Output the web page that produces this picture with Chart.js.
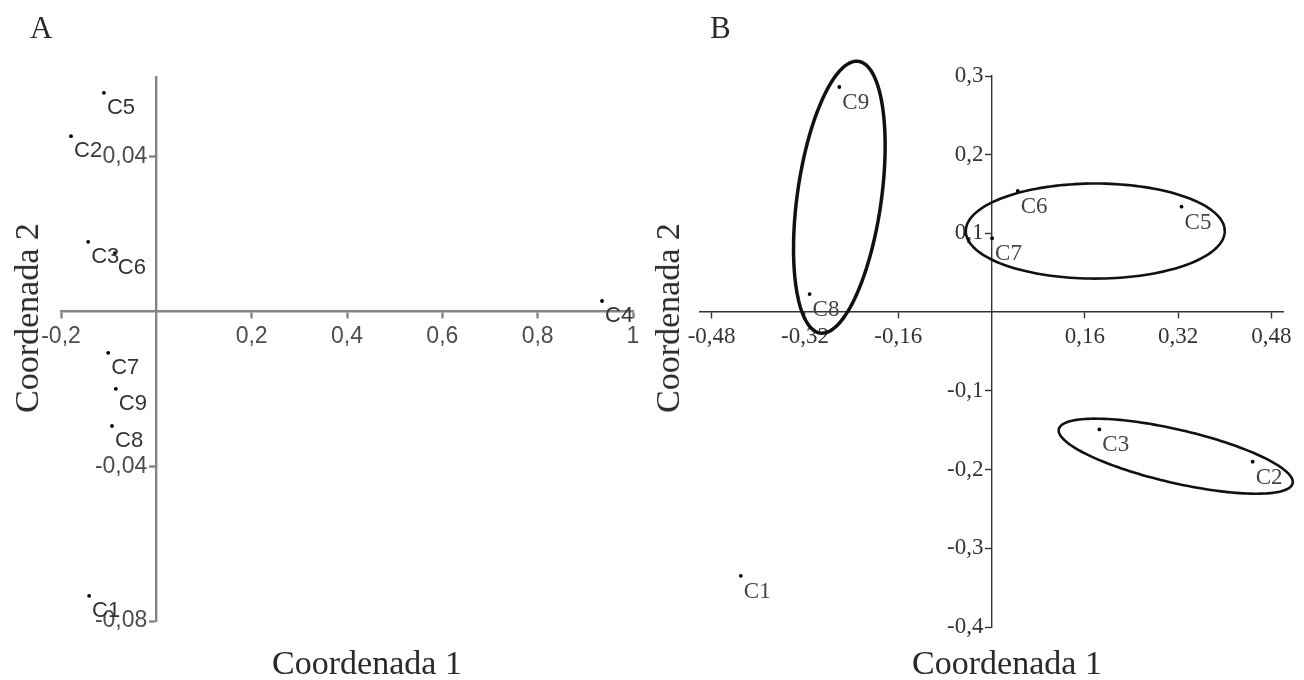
<!DOCTYPE html>
<html><head><meta charset="utf-8">
<script src="https://cdn.jsdelivr.net/npm/chart.js@4.4.0/dist/chart.umd.min.js"></script>
<style>
html,body{margin:0;padding:0;background:#fff;width:1304px;height:680px;overflow:hidden;}
#wrap{position:relative;width:1304px;height:680px;background:#fff;}
canvas{position:absolute;top:0;}
.t{position:absolute;font-family:"Liberation Serif","Times New Roman",serif;color:#2a2a2a;line-height:1;white-space:nowrap;}
</style></head>
<body><div id="wrap">
<canvas id="cA" width="652" height="680" style="left:0;width:652px;height:680px"></canvas>
<canvas id="cB" width="652" height="680" style="left:652px;width:652px;height:680px"></canvas>
<div class="t" style="left:30px;top:12px;font-size:31px">A</div>
<div class="t" style="left:710px;top:12px;font-size:31px">B</div>
<div class="t" style="left:367px;top:646px;font-size:34px;transform:translateX(-50%)">Coordenada 1</div>
<div class="t" style="left:1007px;top:646px;font-size:34px;transform:translateX(-50%)">Coordenada 1</div>
<div class="t" style="left:27px;top:318px;font-size:34px;transform:translate(-50%,-50%) rotate(-90deg)">Coordenada 2</div>
<div class="t" style="left:668px;top:318px;font-size:34px;transform:translate(-50%,-50%) rotate(-90deg)">Coordenada 2</div>
</div>
<script>
// ---- data ----
const categories = ['C1','C2','C3','C4','C5','C6','C7','C8','C9'];
// Panel A (C4 only appears in A)
const coordA1 = [-0.141, -0.179, -0.143, 0.935, -0.110, -0.087, -0.101, -0.093, -0.085];
const coordA2 = [-0.0735, 0.0453, 0.0180, 0.0027, 0.0565, 0.0151, -0.0107, -0.0296, -0.0200];
// Panel B (no C4)
const categoriesB = ['C1','C2','C3','C5','C6','C7','C8','C9'];
const coordB1 = [-0.430, 0.448, 0.185, 0.326, 0.045, 0.001, -0.312, -0.261];
const coordB2 = [-0.335, -0.190, -0.149, 0.134, 0.154, 0.094, 0.023, 0.286];
// ticks
const ticksA1 = [-0.2, 0.2, 0.4, 0.6, 0.8, 1];
const tickLabelsA1 = ['-0,2','0,2','0,4','0,6','0,8','1'];
const ticksA2 = [0.04, -0.04, -0.08];
const tickLabelsA2 = ['0,04','-0,04','-0,08'];
const ticksB1 = [-0.48, -0.32, -0.16, 0.16, 0.32, 0.48];
const tickLabelsB1 = ['-0,48','-0,32','-0,16','0,16','0,32','0,48'];
const ticksB2 = [0.3, 0.2, 0.1, -0.1, -0.2, -0.3, -0.4];
const tickLabelsB2 = ['0,3','0,2','0,1','-0,1','-0,2','-0,3','-0,4'];
// group ellipses in panel B (data units): centre and two conjugate semi-axes
const groupCenterX = [-0.261, 0.178, 0.316];
const groupCenterY = [0.146, 0.103, -0.183];
const groupAxisU = [[0.0328, 0.1726], [0.2221, 0], [0.2005, -0.0344]];
const groupAxisV = [[0.0714, -0.0074], [0, 0.0604], [-0.0100, -0.0330]];

// ---- plugins ----
const ptLabels = {
  id: 'ptLabels',
  afterDatasetsDraw(chart, args, o) {
    const ctx = chart.ctx, meta = chart.getDatasetMeta(0);
    ctx.save();
    ctx.font = o.font; ctx.fillStyle = o.color;
    ctx.textAlign = 'left'; ctx.textBaseline = 'alphabetic';
    meta.data.forEach((el, i) => {
      ctx.fillText(o.names[i], el.x + o.dx, el.y + o.dy);
    });
    ctx.restore();
  }
};
const ellipses = {
  id: 'ellipses',
  afterDatasetsDraw(chart, args, o) {
    if (!o || !o.show) return;
    const ctx = chart.ctx, sx = chart.scales.x, sy = chart.scales.y;
    ctx.save();
    ctx.strokeStyle = o.color;
    groupCenterX.forEach((cx, k) => {
      const cy = groupCenterY[k], u = groupAxisU[k], v = groupAxisV[k];
      ctx.lineWidth = o.widths[k];
      ctx.beginPath();
      const n = 160;
      for (let j = 0; j <= n; j++) {
        const t = j / n * Math.PI * 2;
        const x = cx + u[0] * Math.cos(t) + v[0] * Math.sin(t);
        const y = cy + u[1] * Math.cos(t) + v[1] * Math.sin(t);
        const px = sx.getPixelForValue(x), py = sy.getPixelForValue(y);
        if (j === 0) ctx.moveTo(px, py); else ctx.lineTo(px, py);
      }
      ctx.closePath();
      ctx.stroke();
    });
    ctx.restore();
  }
};
// move the y tick labels clear of the tick marks (axis drawn at x = 0)
const shiftYLabels = {
  id: 'shiftYLabels',
  beforeDraw(chart, args, o) {
    const s = chart.scales.y;
    const items = s.getLabelItems(chart.chartArea);
    if (items._shifted) return;
    items.forEach(it => { it.options.translation[0] -= o.shift; });
    items._shifted = true;
  }
};

function makeChart(id, names, xs, ys, cfg) {
  const pts = names.map((c, i) => ({x: xs[i], y: ys[i]}));
  return new Chart(document.getElementById(id), {
    type: 'scatter',
    data: {datasets: [{data: pts, pointRadius: 1.9, pointHoverRadius: 1.9,
      pointBackgroundColor: '#000', pointBorderWidth: 0}]},
    options: {
      responsive: false, animation: false, events: [],
      layout: {padding: cfg.padding},
      plugins: {
        legend: {display: false}, tooltip: {enabled: false},
        ptLabels: {names: names, font: cfg.labelFont, color: cfg.labelColor, dx: cfg.dx, dy: cfg.dy},
        ellipses: cfg.ellipses || {show: false},
        shiftYLabels: {shift: cfg.yshift}
      },
      scales: {
        x: {
          type: 'linear', min: cfg.xmin, max: cfg.xmax, position: {y: 0},
          afterFit: s => { s.height = 0; },
          afterBuildTicks: s => { s.ticks = cfg.xt.map(v => ({value: v})); },
          ticks: {autoSkip: false, maxRotation: 0, minRotation: 0, padding: cfg.xpad,
            callback: (v, i) => cfg.xl[i], font: cfg.tickFont, color: cfg.tickColor},
          grid: {drawOnChartArea: false, drawTicks: true, tickLength: 6, tickColor: cfg.axisColor, tickWidth: cfg.axisWidth},
          border: {display: true, color: cfg.axisColor, width: cfg.axisWidth}
        },
        y: {
          type: 'linear', min: cfg.ymin, max: cfg.ymax, position: {x: 0},
          afterFit: s => { s.width = 0; },
          afterBuildTicks: s => { s.ticks = cfg.yt.map(v => ({value: v})); },
          ticks: {autoSkip: false, padding: 2,
            callback: (v, i) => cfg.yl[i], font: cfg.tickFont, color: cfg.tickColor},
          grid: {drawOnChartArea: false, drawTicks: true, tickLength: 6, tickColor: cfg.axisColor, tickWidth: cfg.axisWidth},
          border: {display: true, color: cfg.axisColor, width: cfg.axisWidth}
        }
      }
    },
    plugins: [shiftYLabels, ptLabels, ellipses]
  });
}

makeChart('cA', categories, coordA1, coordA2, {
  padding: {left: 61, right: 19, top: 77, bottom: 59},
  xmin: -0.2, xmax: 1, ymin: -0.08, ymax: 0.0606,
  xt: ticksA1, xl: tickLabelsA1, yt: ticksA2, yl: tickLabelsA2,
  xpad: 5, yshift: 9,
  tickFont: {family: '"Liberation Sans", Arial, sans-serif', size: 23},
  tickColor: '#4d4d4d', axisColor: '#858585', axisWidth: 2.4,
  labelFont: '22px "Liberation Sans", Arial, sans-serif', labelColor: '#333', dx: 3, dy: 21
});

makeChart('cB', categoriesB, coordB1, coordB2, {
  padding: {left: 48, right: 21, top: 76, bottom: 53},
  xmin: -0.5, xmax: 0.5, ymin: -0.4, ymax: 0.3,
  xt: ticksB1, xl: tickLabelsB1, yt: ticksB2, yl: tickLabelsB2,
  xpad: 5, yshift: 8,
  tickFont: {family: '"Liberation Serif", "Times New Roman", serif', size: 23},
  tickColor: '#333', axisColor: '#333', axisWidth: 1.4,
  labelFont: '23px "Liberation Serif", "Times New Roman", serif', labelColor: '#444', dx: 3, dy: 22,
  ellipses: {show: true, color: '#111', widths: [3.5, 2.6, 2.6]}
});
</script>
</body></html>
